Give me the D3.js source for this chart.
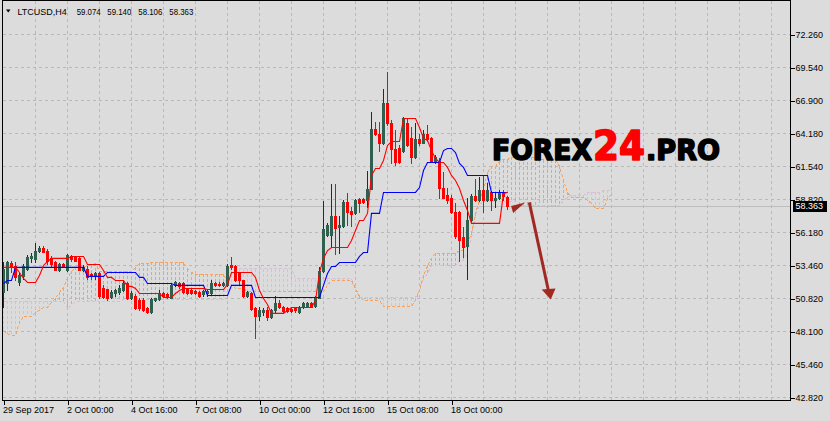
<!DOCTYPE html>
<html><head><meta charset="utf-8">
<script src="https://cdn.jsdelivr.net/npm/d3@7"></script>
<style>body{margin:0;background:#dcdcdc;}svg{display:block;}</style>
</head><body><svg id="c" width="830" height="421"></svg>
<script>
const symbol = "LTCUSD,H4";
const yTickLabels = ["42.820","45.460","48.100","50.820","53.460","56.180","58.820","61.540","64.180","66.900","69.540","72.260"];
const yMin = 42.82, yMax = 72.26;
const dateIdx = [0,16,32,48,64,80,96,112];
const dateLabels = ["29 Sep 2017","2 Oct 00:00","4 Oct 16:00","7 Oct 08:00","10 Oct 00:00","12 Oct 16:00","15 Oct 08:00","18 Oct 00:00"];

const opens = [51.34,52.07,53.69,53.45,52.15,52.64,53.28,54.10,54.02,54.74,
54.91,54.74,54.10,53.77,53.20,53.61,53.12,54.26,54.18,54.10,
53.12,53.28,52.80,52.64,52.88,51.74,51.58,51.01,51.26,51.34,
51.50,52.07,50.85,51.09,50.69,50.69,50.04,49.72,50.69,50.77,
51.26,51.18,50.93,51.91,52.07,52.07,51.66,51.50,51.42,51.34,
51.18,51.26,51.26,52.07,51.99,51.91,51.91,53.53,53.45,52.88,
52.31,51.09,51.26,50.04,49.47,49.72,49.88,49.31,49.88,50.45,
50.12,50.04,49.96,50.04,49.72,50.12,50.28,50.45,50.28,50.93,
53.04,55.96,55.96,57.50,56.61,56.69,58.64,57.91,57.75,58.88,
58.88,58.80,59.77,64.56,64.23,63.42,66.67,65.05,62.94,63.02,
62.85,65.05,63.83,62.29,63.75,63.50,64.15,63.83,61.88,62.04,
59.85,59.21,58.96,57.83,57.83,55.80,55.07,57.18,59.13,58.80,
59.61,58.80,59.45,58.80,58.96,59.45,59.074];
const highs = [53.77,53.93,53.93,53.77,52.88,53.61,54.34,54.50,55.31,55.07,
55.07,54.83,54.26,53.93,53.69,53.69,54.42,54.34,54.26,54.26,
53.53,53.45,52.88,52.96,52.96,51.91,51.66,51.50,51.66,51.91,
52.31,52.15,51.42,51.18,50.85,50.85,50.20,50.85,50.93,51.50,
51.34,51.26,52.07,52.23,52.15,52.15,51.74,51.58,51.50,51.42,
51.50,51.50,52.31,52.15,52.15,52.15,53.61,54.18,53.53,52.96,
52.39,51.42,51.34,50.20,50.12,50.04,50.12,49.96,51.09,50.69,
50.28,50.12,50.04,50.12,50.28,50.53,50.53,50.53,51.09,53.37,
58.72,56.94,60.10,60.10,57.58,58.80,59.37,58.23,58.88,58.96,
58.96,61.23,65.94,65.13,65.13,67.88,69.18,65.29,64.48,63.26,
65.53,65.37,64.72,65.05,64.23,64.48,64.88,63.91,62.45,62.21,
61.07,59.85,59.21,58.56,57.91,56.61,59.04,59.29,60.58,60.67,
60.75,60.18,59.53,59.37,59.61,59.61,59.140];
const lows = [50.20,51.50,52.96,52.39,51.91,52.47,53.20,53.77,53.77,54.58,
54.58,53.61,53.45,53.12,53.04,53.37,53.04,53.93,53.85,53.12,
53.04,52.47,52.47,52.47,50.93,50.85,50.69,50.85,51.09,51.18,
51.42,50.77,50.77,49.96,49.88,49.80,49.64,49.64,50.61,50.69,
51.01,50.93,50.85,51.83,51.74,51.26,51.18,51.18,51.18,51.01,
51.09,51.09,51.18,51.83,51.83,51.83,51.83,53.28,52.23,51.91,
51.01,51.01,49.88,47.61,49.07,49.55,49.07,49.23,49.64,50.04,
49.72,49.72,49.72,49.72,49.64,50.04,50.20,50.12,50.20,50.85,
52.96,55.88,54.99,54.42,54.50,56.61,56.77,56.69,57.67,57.83,
58.56,58.23,59.69,64.07,62.85,63.34,64.96,61.80,61.64,61.80,
62.77,63.18,61.80,62.21,63.26,63.42,63.66,61.96,61.80,59.04,
58.96,58.56,57.75,55.72,53.93,54.18,52.47,57.10,58.72,58.72,
57.83,58.72,57.99,58.23,58.88,58.80,58.106];
const closes = [53.28,53.77,53.37,52.56,52.72,53.45,54.18,54.26,54.74,54.91,
54.66,53.85,53.61,53.20,53.61,53.45,54.34,54.02,53.93,53.20,
53.37,52.56,52.64,52.88,51.09,51.01,50.93,51.34,51.50,51.74,
52.07,50.85,51.26,50.04,50.04,49.88,49.72,50.77,50.85,51.26,
51.09,51.01,51.91,52.15,51.83,51.34,51.26,51.26,51.26,51.09,
51.42,51.42,52.07,51.91,51.91,52.07,53.45,53.37,52.31,52.31,
51.09,51.34,49.96,49.47,49.88,49.88,49.31,49.88,50.45,50.20,
49.80,49.80,49.80,49.88,50.20,50.45,50.45,50.20,50.93,53.04,
56.45,56.77,57.50,56.53,56.77,58.64,57.83,57.67,58.80,58.56,
58.64,59.77,64.56,64.23,63.42,66.67,65.05,62.94,61.96,61.88,
65.45,63.26,62.29,63.75,63.50,64.15,63.75,62.04,62.29,59.85,
59.04,58.80,57.83,55.88,55.56,54.99,57.18,59.13,58.80,59.61,
58.80,59.61,58.80,59.04,59.37,59.13,58.363];

const tenkan = [53.37,53.37,53.37,53.37,52.96,52.47,52.15,52.15,52.15,52.72,
53.53,53.85,54.10,54.10,54.10,54.10,54.10,54.26,54.26,54.26,
54.26,53.61,53.61,53.61,53.61,53.12,52.56,52.56,52.31,52.31,
52.31,51.83,51.83,51.66,51.26,51.26,51.26,51.26,51.26,51.26,
50.93,50.93,50.93,51.26,51.50,51.66,51.66,51.66,51.66,51.66,
51.66,51.58,51.58,51.58,51.58,51.58,51.99,52.96,52.96,52.96,
52.96,52.96,52.96,52.56,51.50,50.85,50.36,49.64,49.64,49.64,
49.64,49.88,50.12,50.12,50.12,50.12,50.12,50.12,50.69,52.96,
54.10,54.74,54.99,54.99,54.99,54.99,54.99,55.56,56.37,57.18,
57.18,57.75,60.83,61.39,61.39,62.04,63.26,63.58,63.58,63.58,
65.45,65.45,65.45,65.45,64.72,63.83,63.66,62.85,62.21,61.88,
61.88,61.48,60.83,60.42,59.77,58.80,57.99,56.94,56.94,56.94,
56.94,56.94,56.94,56.94,56.94,59.37,59.45];
const kijun = [52.07,52.31,52.31,53.37,53.37,53.37,53.37,53.37,53.37,53.37,
53.37,53.37,53.37,53.37,53.37,53.37,53.37,53.37,53.37,53.37,
53.37,52.64,52.64,52.64,52.64,52.64,52.96,52.96,52.96,52.96,
52.96,52.96,52.96,52.96,52.56,52.56,52.07,52.07,52.07,52.07,
52.07,52.07,52.07,51.91,51.91,51.91,51.91,51.91,51.91,51.91,
51.91,51.09,51.09,51.09,51.09,51.09,51.09,51.91,51.91,51.91,
51.91,51.91,51.91,50.93,50.93,50.93,50.93,50.93,50.93,50.93,
50.93,50.93,50.93,50.93,50.93,50.93,50.93,50.93,50.93,50.93,
51.91,52.88,53.45,53.45,53.77,53.77,53.77,53.77,53.77,54.26,
54.58,54.58,57.75,57.75,57.75,59.45,59.45,59.45,59.45,59.45,
59.45,59.45,59.45,59.45,59.85,61.23,61.88,61.88,61.88,61.88,
62.85,63.02,63.02,62.69,61.80,61.48,60.83,60.83,60.83,60.83,
60.83,60.83,59.45,59.45,59.45,59.45,59.45];
const senkouA = [48.26,48.00,47.85,47.85,48.91,49.39,49.39,49.39,49.72,49.88,
50.12,50.12,50.53,50.85,51.34,51.74,52.47,53.04,53.37,53.37,
53.37,53.53,53.53,53.69,53.04,53.04,53.04,53.04,53.04,53.04,
53.04,53.04,53.04,53.37,53.69,53.69,53.69,53.77,53.77,53.77,
53.77,53.77,53.77,53.77,53.77,53.77,53.28,52.96,52.80,52.80,
52.80,52.80,52.80,52.80,52.80,52.80,52.31,51.99,51.66,51.66,
51.66,51.42,51.42,51.42,51.42,51.42,51.42,51.42,51.42,51.42,
51.42,51.42,51.42,51.42,51.42,51.42,51.42,51.42,51.42,51.42,
51.42,51.91,52.31,52.31,52.31,52.31,52.31,52.31,51.66,51.01,
50.69,50.69,50.69,50.69,50.69,50.20,50.20,50.20,50.20,50.20,
50.20,50.20,50.20,50.69,51.50,52.72,53.53,54.10,54.50,54.50,
54.50,54.50,54.50,54.50,54.74,54.74,55.31,56.20,57.75,58.80,
59.61,61.07,61.56,61.56,61.96,62.12,62.12,62.29,62.29,62.29,
62.29,62.29,62.29,62.29,62.12,62.12,62.12,62.12,62.12,61.56,
60.42,59.45,59.04,59.04,59.04,59.04,58.80,58.56,58.15,58.15,
58.15,58.90,59.30];
const senkouB = [50.61,50.61,50.61,50.61,50.61,50.61,50.61,50.61,50.61,50.61,
50.61,50.61,50.61,50.61,50.61,50.61,50.04,50.28,50.61,50.61,
50.61,50.61,50.61,50.61,50.61,50.61,50.61,50.61,50.61,50.61,
50.77,50.77,50.77,50.77,50.77,50.77,50.77,50.77,50.77,50.77,
50.77,50.77,50.77,50.77,50.77,50.77,50.77,50.77,50.77,50.77,
50.77,50.77,50.77,50.77,50.77,50.77,53.28,53.28,53.28,53.28,
53.28,53.28,53.28,53.28,53.28,53.28,53.28,53.28,53.28,53.28,
53.28,53.28,53.28,52.47,52.47,52.47,52.47,52.47,52.47,52.47,
52.47,52.47,52.47,52.47,52.47,52.47,52.47,52.47,51.50,50.93,
50.93,50.93,50.93,50.93,50.93,50.93,50.93,50.93,50.93,50.93,
50.93,50.93,50.93,50.93,51.50,52.47,52.88,53.53,53.53,53.53,
53.53,53.53,53.53,53.53,53.93,53.93,54.74,55.72,57.58,58.47,
58.72,58.72,58.72,58.72,58.72,58.72,58.72,58.72,58.72,58.39,
58.39,58.39,58.39,58.39,58.39,58.39,58.39,58.39,58.39,58.39,
58.80,59.04,59.21,59.21,59.21,59.21,59.45,59.45,59.45,59.45,
59.61,59.61,59.61];

// annotation arrow, in (bar index, price)
const arrowLine = [[131.45,58.65],[136.25,51.46]];
const arrowHead = [[134.55,51.58],[138.0,51.66],[136.8,50.77]];
const arrowTail = [[126.9,58.35],[130.4,58.63],[127.4,57.78]];

const W = 830, H = 421;
const P = {l:2, t:0, r:790, b:400};
const FONT = "'Liberation Sans', Arial, sans-serif";
const svg = d3.select('#c');
svg.append('rect').attr('width',W).attr('height',H).attr('fill','#dcdcdc');

const x = d3.scaleLinear().domain([0,152]).range([3.5, 3.5 + 4*152]);
const y = d3.scaleLinear().domain([yMin,yMax]).range([397.5,34.5]);
const yTickVals = yTickLabels.map((_,k)=> yMin + k*(yMax-yMin)/(yTickLabels.length-1));

svg.append('clipPath').attr('id','pc').append('rect').attr('x',P.l+1).attr('y',P.t+1).attr('width',P.r-P.l-1).attr('height',P.b-P.t-1);

// grid
const grid = svg.append('g').attr('stroke','#b9b9b9').attr('stroke-dasharray','3,3').attr('shape-rendering','crispEdges');
yTickVals.forEach(v=> grid.append('line').attr('x1',P.l+1).attr('x2',P.r).attr('y1',y(v)).attr('y2',y(v)));
d3.range(8,400,8).filter(i=>x(i)<P.r).forEach(i=> grid.append('line').attr('x1',x(i)).attr('x2',x(i)).attr('y1',P.t+1).attr('y2',P.b));

const plot = svg.append('g').attr('clip-path','url(#pc)');

// current price line
const last = closes[closes.length-1];
plot.append('line').attr('x1',P.l).attr('x2',P.r).attr('y1',Math.round(y(last))+0.5).attr('y2',Math.round(y(last))+0.5)
  .attr('stroke','#bdbdbd').attr('shape-rendering','crispEdges');

// cloud hatch
const SANDY = '#f4a460', THISTLE = '#d8bfd8';
const hatch = plot.append('g').attr('stroke-dasharray','3,2').attr('shape-rendering','crispEdges');
senkouA.forEach((a,i)=>{
  const b = senkouB[i];
  hatch.append('line').attr('x1',x(i)).attr('x2',x(i)).attr('y1',y(Math.max(a,b))).attr('y2',y(Math.min(a,b)))
    .attr('stroke', a>=b ? SANDY : THISTLE);
});
const line = d3.line().x((d,i)=>x(i)).y(d=>y(d));
plot.append('path').attr('d',line(senkouB)).attr('fill','none').attr('stroke',THISTLE).attr('stroke-dasharray','3,2').attr('shape-rendering','crispEdges');
plot.append('path').attr('d',line(senkouA)).attr('fill','none').attr('stroke',SANDY).attr('stroke-dasharray','3,2').attr('shape-rendering','crispEdges');

// candles
const cg = plot.append('g').attr('shape-rendering','crispEdges');
opens.forEach((o,i)=>{
  const c = closes[i], h = highs[i], l = lows[i];
  const up = c >= o;
  const wickCol = up ? '#1c2f29' : '#ff0000';
  cg.append('line').attr('x1',x(i)).attr('x2',x(i)).attr('y1',Math.round(y(h))).attr('y2',Math.round(y(l))+1).attr('stroke',wickCol);
  const yt = Math.round(y(Math.max(o,c))), yb = Math.round(y(Math.min(o,c)));
  cg.append('rect').attr('x',x(i)-1.5).attr('y',yt).attr('width',3).attr('height',Math.max(1,yb-yt+1))
    .attr('fill', up ? '#2f5f4f' : '#ff0000');
});

// tenkan / kijun
plot.append('path').attr('d',line(kijun)).attr('fill','none').attr('stroke','#0000ff').attr('stroke-width',1.1);
plot.append('path').attr('d',line(tenkan)).attr('fill','none').attr('stroke','#ff0000').attr('stroke-width',1.1);

// frame
const fr = svg.append('g').attr('stroke','#000').attr('shape-rendering','crispEdges');
fr.append('line').attr('x1',P.l+0.5).attr('x2',P.l+0.5).attr('y1',P.t).attr('y2',P.b+1);
fr.append('line').attr('x1',P.l).attr('x2',P.r+1).attr('y1',P.b+0.5).attr('y2',P.b+0.5);
fr.append('line').attr('x1',P.r+0.5).attr('x2',P.r+0.5).attr('y1',P.t).attr('y2',P.b+1);
fr.append('line').attr('x1',P.l).attr('x2',P.r+1).attr('y1',P.t+0.5).attr('y2',P.t+0.5);

// right axis
const ra = svg.append('g').attr('transform',`translate(${P.r+0.5},0)`)
  .call(d3.axisRight(y).tickValues(yTickVals).tickFormat((d,i)=>yTickLabels[i]).tickSize(4).tickPadding(1));
ra.select('.domain').remove();
ra.attr('font-family',FONT).attr('font-size',9);
ra.selectAll('line').attr('stroke','#000').attr('shape-rendering','crispEdges');
ra.selectAll('text').attr('fill','#000');

// bottom axis
const ba = svg.append('g').attr('transform',`translate(0,${P.b+0.5})`)
  .call(d3.axisBottom(x).tickValues(dateIdx).tickFormat((d,i)=>dateLabels[i]).tickSize(4).tickPadding(2));
ba.select('.domain').remove();
ba.attr('font-family',FONT).attr('font-size',9);
ba.selectAll('line').attr('stroke','#000').attr('shape-rendering','crispEdges');
ba.selectAll('text').attr('fill','#000').attr('text-anchor','start').attr('x',-1);

// current price label
const yl = y(last);
svg.append('rect').attr('x',793).attr('y',Math.round(yl)-5).attr('width',34).attr('height',11).attr('fill','#000');
svg.append('text').attr('x',795.5).attr('y',yl).attr('dy','0.35em').attr('fill','#fff')
  .attr('font-family',FONT).attr('font-size',9).text(last.toFixed(3));

// title
svg.append('path').attr('d','M6,9.5L10.5,9.5L8.25,12.5Z').attr('fill','#000');
const tg = svg.append('g').attr('font-family',FONT).attr('font-size',9).attr('fill','#000');
tg.append('text').attr('x',17.5).attr('y',15).text(symbol);
const ohlc = [opens, highs, lows, closes].map(a=>a[a.length-1].toFixed(3));
[76.7,107.3,138.3,169.3].forEach((xx,k)=> tg.append('text').attr('x',xx).attr('y',15)
  .attr('textLength',24).attr('lengthAdjust','spacingAndGlyphs').text(ohlc[k]));

// logo
const lg = svg.append('g').attr('font-family',"'DejaVu Sans', sans-serif").attr('font-weight','bold')
  .attr('stroke-linejoin','round');
lg.append('text').attr('x',492).attr('y',160).attr('font-size',27.5).attr('textLength',100).attr('lengthAdjust','spacingAndGlyphs')
  .attr('fill','#000').attr('stroke','#000').attr('stroke-width',1.6).text('FOREX');
lg.append('text').attr('x',593).attr('y',160).attr('font-size',40).attr('textLength',52).attr('lengthAdjust','spacingAndGlyphs')
  .attr('fill','#ff0000').attr('stroke','#ff0000').attr('stroke-width',1.6).text('24');
lg.append('text').attr('x',646).attr('y',160).attr('font-size',27.5).attr('textLength',74).attr('lengthAdjust','spacingAndGlyphs')
  .attr('fill','#000').attr('stroke','#000').attr('stroke-width',1.6).text('.PRO');

// arrow
const ARW = '#a02a22';
const pt = d=>[x(d[0]), y(d[1])];
svg.append('path').attr('d',d3.line()(arrowLine.map(pt))).attr('stroke',ARW).attr('stroke-width',3).attr('fill','none');
svg.append('path').attr('d',d3.line()(arrowHead.map(pt))+'Z').attr('fill',ARW);
svg.append('path').attr('d',d3.line()(arrowTail.map(pt))+'Z').attr('fill',ARW);
</script></body></html>
